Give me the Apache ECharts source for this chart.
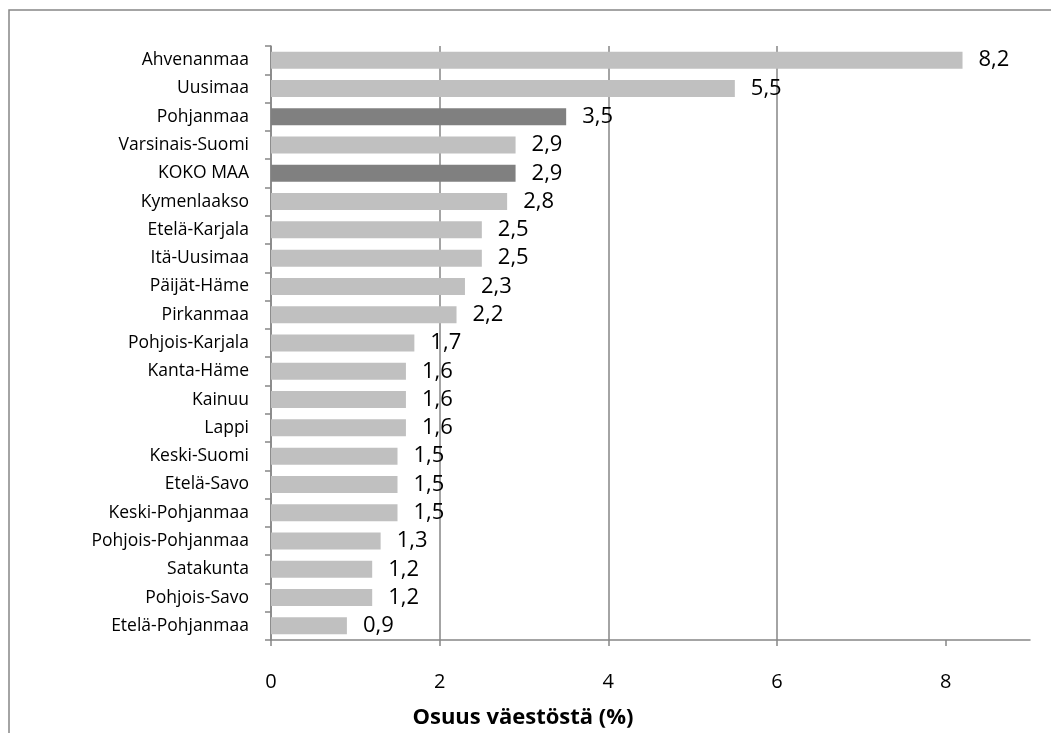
<!DOCTYPE html>
<html>
<head>
<meta charset="utf-8">
<script src="https://cdn.jsdelivr.net/npm/echarts@6/dist/echarts.min.js"></script>
<style>
  html, body { margin: 0; padding: 0; background: #ffffff; }
  #chart { width: 1051px; height: 733px; }
</style>
</head>
<body>
<div id="chart"></div>
<script>
// Regions, top to bottom
const regions = [
  'Ahvenanmaa', 'Uusimaa', 'Pohjanmaa', 'Varsinais-Suomi', 'KOKO MAA',
  'Kymenlaakso', 'Etelä-Karjala', 'Itä-Uusimaa', 'Päijät-Häme', 'Pirkanmaa',
  'Pohjois-Karjala', 'Kanta-Häme', 'Kainuu', 'Lappi', 'Keski-Suomi',
  'Etelä-Savo', 'Keski-Pohjanmaa', 'Pohjois-Pohjanmaa', 'Satakunta',
  'Pohjois-Savo', 'Etelä-Pohjanmaa'
];
// Share of population (%)
const shares = [
  8.2, 5.5, 3.5, 2.9, 2.9,
  2.8, 2.5, 2.5, 2.3, 2.2,
  1.7, 1.6, 1.6, 1.6, 1.5,
  1.5, 1.5, 1.3, 1.2,
  1.2, 0.9
];
// Regions drawn in the darker shade
const highlighted = ['Pohjanmaa', 'KOKO MAA'];
// Value axis ticks
const xTicks = [0, 2, 4, 6, 8];
const axisTitle = 'Osuus väestöstä (%)';

const FONT = '"Open Sans", "Liberation Sans", sans-serif';
const GRAY = '#868686';

const chart = echarts.init(document.getElementById('chart'), null, { renderer: 'canvas' });

chart.setOption({
  animation: false,
  backgroundColor: '#ffffff',
  graphic: [
    {
      type: 'rect',
      shape: { x: 9, y: 10, width: 1060, height: 740 },
      style: { fill: 'none', stroke: GRAY, lineWidth: 1.5 },
      z: -1
    },
    {
      type: 'text',
      style: {
        text: axisTitle,
        x: 523, y: 718,
        align: 'center', verticalAlign: 'middle',
        font: 'bold 22px ' + FONT,
        fill: '#000000'
      }
    }
  ],
  grid: { left: 271, right: 21, top: 46, bottom: 93, containLabel: false },
  xAxis: {
    type: 'value',
    min: 0, max: 9, interval: 2,
    axisLine: { show: true, lineStyle: { color: GRAY, width: 1.5 } },
    axisTick: { show: true, length: 6, customValues: xTicks, lineStyle: { color: GRAY, width: 1.5 } },
    splitLine: { show: true, showMaxLine: false, lineStyle: { color: GRAY, width: 1.5 } },
    axisLabel: { color: '#000', fontFamily: FONT, fontSize: 20, margin: 32, customValues: xTicks }
  },
  yAxis: {
    type: 'category',
    data: regions,
    inverse: true,
    axisLine: { show: true, lineStyle: { color: GRAY, width: 1.5 } },
    axisTick: { show: true, length: 6, lineStyle: { color: GRAY, width: 1.5 } },
    axisLabel: { color: '#000', fontFamily: FONT, fontSize: 17.5, margin: 22 }
  },
  series: [{
    type: 'bar',
    barCategoryGap: '40%',
    data: regions.map((r, i) => ({
      value: shares[i],
      itemStyle: { color: highlighted.includes(r) ? '#808080' : '#c0c0c0' }
    })),
    label: {
      show: true,
      position: 'right',
      distance: 16,
      color: '#000',
      fontFamily: FONT,
      fontSize: 22,
      formatter: p => String(p.value).replace('.', ',')
    }
  }]
});
</script>
</body>
</html>
